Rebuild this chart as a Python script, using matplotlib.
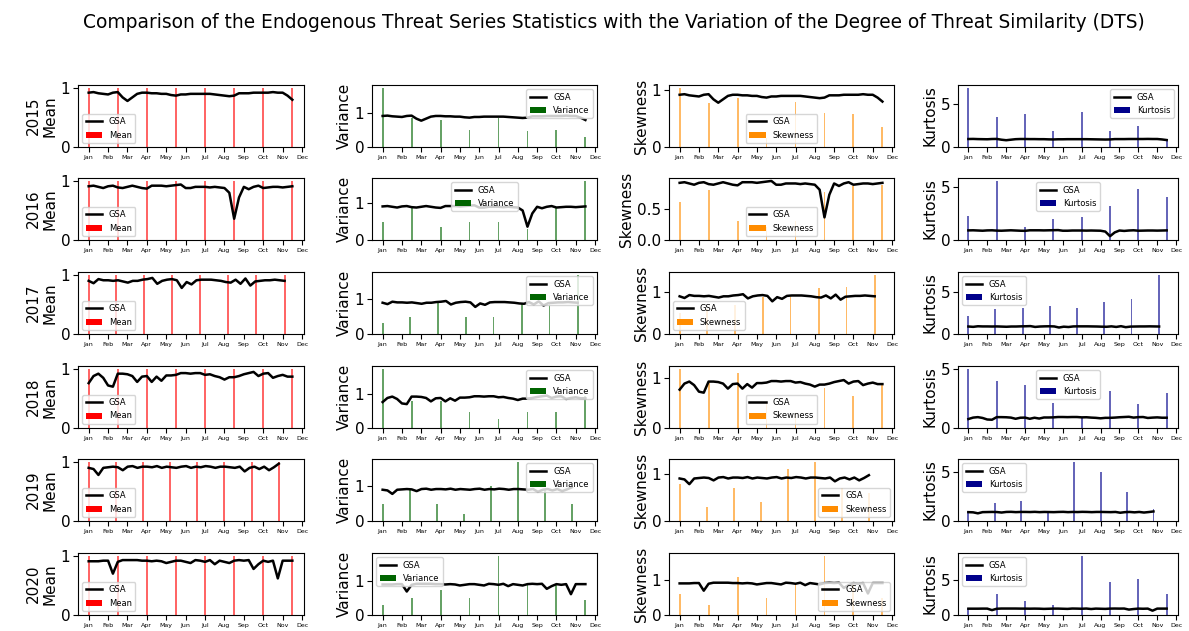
import numpy as np
import matplotlib
matplotlib.use("Agg")
import matplotlib.pyplot as plt

years = ["2015", "2016", "2017", "2018", "2019", "2020"]
months = ["Jan", "Feb", "Mar", "Apr", "May", "Jun",
          "Jul", "Aug", "Sep", "Oct", "Nov", "Dec"]
stats = ["Mean", "Variance", "Skewness", "Kurtosis"]
colors = {"Mean": "red", "Variance": "darkgreen",
          "Skewness": "darkorange", "Kurtosis": "darkblue"}

# last point of the GSA series (in months from Jan 1)
gsa_end = {"2015": 10.5, "2016": 10.5, "2017": 10.1,
           "2018": 10.5, "2019": 9.8, "2020": 10.5}

# GSA series (roughly weekly)
gsa_2015 = [0.92, 0.93, 0.91, 0.90, 0.89, 0.92, 0.93, 0.84, 0.78, 0.84,
            0.90, 0.92, 0.92, 0.91, 0.91, 0.90, 0.90, 0.88, 0.87, 0.89,
            0.89, 0.90, 0.90, 0.90, 0.90, 0.90, 0.89, 0.88, 0.87, 0.86,
            0.87, 0.91, 0.91, 0.91, 0.92, 0.92, 0.92, 0.92, 0.93, 0.92,
            0.92, 0.87, 0.80]
gsa_2016 = [0.91, 0.92, 0.90, 0.88, 0.91, 0.92, 0.89, 0.88, 0.90, 0.92,
            0.90, 0.88, 0.87, 0.92, 0.92, 0.92, 0.91, 0.92, 0.93, 0.94,
            0.88, 0.88, 0.90, 0.90, 0.90, 0.89, 0.90, 0.89, 0.88, 0.80,
            0.36, 0.72, 0.90, 0.86, 0.90, 0.92, 0.88, 0.89, 0.90, 0.90,
            0.89, 0.90, 0.91]
gsa_2017 = [0.90, 0.86, 0.93, 0.91, 0.91, 0.90, 0.91, 0.89, 0.87, 0.90,
            0.90, 0.92, 0.93, 0.95, 0.85, 0.90, 0.92, 0.93, 0.91, 0.78,
            0.88, 0.84, 0.91, 0.92, 0.92, 0.92, 0.91, 0.90, 0.88, 0.87,
            0.92, 0.85, 0.94, 0.82, 0.89, 0.90, 0.91, 0.91, 0.92, 0.91,
            0.90]
gsa_2018 = [0.76, 0.88, 0.92, 0.85, 0.72, 0.70, 0.92, 0.92, 0.91, 0.88,
            0.78, 0.87, 0.88, 0.78, 0.87, 0.80, 0.89, 0.89, 0.90, 0.93,
            0.93, 0.92, 0.93, 0.93, 0.90, 0.91, 0.88, 0.86, 0.82, 0.86,
            0.86, 0.88, 0.91, 0.93, 0.95, 0.88, 0.92, 0.93, 0.85, 0.88,
            0.90, 0.87, 0.87]
gsa_2019 = [0.90, 0.88, 0.78, 0.90, 0.91, 0.92, 0.91, 0.86, 0.92, 0.93,
            0.90, 0.92, 0.92, 0.91, 0.93, 0.90, 0.92, 0.91, 0.90, 0.92,
            0.93, 0.90, 0.92, 0.91, 0.93, 0.92, 0.90, 0.92, 0.92, 0.91,
            0.90, 0.92, 0.84, 0.90, 0.92, 0.88, 0.92, 0.86, 0.91, 0.97]
gsa_2020 = [0.91, 0.91, 0.91, 0.92, 0.92, 0.70, 0.90, 0.93, 0.93, 0.93,
            0.93, 0.92, 0.92, 0.91, 0.92, 0.91, 0.88, 0.90, 0.92, 0.92,
            0.90, 0.88, 0.93, 0.92, 0.90, 0.93, 0.86, 0.92, 0.90, 0.88,
            0.92, 0.93, 0.92, 0.93, 0.78, 0.86, 0.92, 0.90, 0.92, 0.62,
            0.92, 0.92, 0.92]
gsa = {"2015": gsa_2015, "2016": gsa_2016, "2017": gsa_2017,
       "2018": gsa_2018, "2019": gsa_2019, "2020": gsa_2020}

# statistic windows (month position of each bar)
win_2015 = [0, 1.5, 3, 4.5, 6, 7.5, 9, 10.5]
win_2017 = [0, 1.43, 2.87, 4.3, 5.74, 7.2, 8.64, 10.1]
win_2019 = [0, 1.4, 2.8, 4.2, 5.6, 7.0, 8.4, 9.8]
windows = {"2015": win_2015, "2016": win_2015, "2017": win_2017,
           "2018": win_2015, "2019": win_2019, "2020": win_2015}

mean_vals = {y: [1.0] * 8 for y in years}
var_vals = {
    "2015": [1.75, 0.86, 0.81, 0.49, 0.86, 0.46, 0.49, 0.30],
    "2016": [0.48, 0.88, 0.35, 0.48, 0.48, 0.30, 0.88, 1.60],
    "2017": [0.33, 0.50, 0.90, 0.50, 0.50, 0.90, 0.85, 1.70],
    "2018": [1.73, 0.80, 0.79, 0.47, 0.27, 0.47, 0.47, 0.95],
    "2019": [0.50, 0.90, 0.50, 0.20, 1.00, 1.70, 0.90, 0.50],
    "2020": [0.30, 0.50, 0.76, 0.50, 1.76, 0.90, 0.90, 0.46],
}
skew_vals = {
    "2015": [1.04, 0.77, 0.87, 0.15, 0.80, 0.60, 0.58, 0.35],
    "2016": [0.60, 0.80, 0.30, 0.20, 0.30, 0.77, 0.86, 0.88],
    "2017": [0.50, 0.60, 0.70, 0.88, 0.88, 1.09, 1.13, 1.41],
    "2018": [1.17, 0.90, 1.08, 0.50, 0.30, 0.79, 0.63, 0.88],
    "2019": [0.78, 0.30, 0.70, 0.40, 1.10, 1.25, 0.70, 0.60],
    "2020": [0.60, 0.30, 1.10, 0.50, 0.90, 1.70, 0.90, 0.50],
}
kurt_vals = {
    "2015": [6.8, 3.5, 3.8, 1.85, 4.0, 1.85, 2.4, 0.8],
    "2016": [2.3, 5.6, 1.25, 2.0, 2.2, 3.2, 4.8, 4.1],
    "2017": [2.2, 3.0, 3.1, 3.4, 3.1, 3.8, 4.2, 7.1],
    "2018": [5.0, 4.0, 3.65, 2.1, 0.95, 3.15, 2.0, 2.95],
    "2019": [1.0, 1.8, 2.0, 0.9, 6.0, 5.0, 2.9, 1.2],
    "2020": [1.0, 3.0, 2.0, 1.5, 8.5, 4.8, 5.2, 3.0],
}
values = {"Mean": mean_vals, "Variance": var_vals,
          "Skewness": skew_vals, "Kurtosis": kurt_vals}

legend_loc = {
    "Mean": ["lower left"] * 6,
    "Variance": ["upper right", "upper center", "upper right",
                 "upper right", "upper right", "upper left"],
    "Skewness": ["lower center", "lower center", "lower left",
                 "lower center", "lower right", "lower right"],
    "Kurtosis": ["upper right", "upper center", "upper left",
                 "upper center", "upper left", "upper left"],
}

W, H = 1189, 631
fig = plt.figure(figsize=(W / 100, H / 100), dpi=100)
fig.suptitle("Comparison of the Endogenous Threat Series Statistics with the "
             "Variation of the Degree of Threat Similarity (DTS)",
             fontsize=13.4, x=614 / W, y=1 - 22 / H, va="center")

col_left = [78, 372, 669, 958]
col_w = [226, 225, 225, 220]
row_top = [85, 178, 272, 366, 459, 553]
row_h = 62

for r, year in enumerate(years):
    line_y = gsa[year]
    line_x = np.linspace(0, gsa_end[year], len(line_y))
    for c, stat in enumerate(stats):
        ax = fig.add_axes([col_left[c] / W, 1 - (row_top[r] + row_h) / H,
                           col_w[c] / W, row_h / H])
        ax.plot(line_x, line_y, color="black", lw=1.8, label="GSA")
        ax.bar(windows[year], values[stat][year], width=0.1,
               color=colors[stat], alpha=0.6, label=stat)
        ax.set_xlim(-0.55, 11.1)
        ax.set_xticks(range(12))
        ax.set_xticklabels(months, fontsize=4.5)
        if stat == "Kurtosis":
            ax.set_yticks([0, 5])
        elif stat == "Skewness" and year == "2016":
            ax.set_yticks([0, 0.5])
        else:
            ax.set_yticks([0, 1])
        ax.tick_params(axis="y", labelsize=11, pad=2)
        ax.tick_params(axis="x", pad=2)
        if c == 0:
            ax.set_ylabel(year + "\nMean", fontsize=11, labelpad=2)
        else:
            ax.set_ylabel(stat, fontsize=11, labelpad=2)
        leg = ax.legend(loc=legend_loc[stat][r], fontsize=6)
        for h in leg.legend_handles:
            h.set_alpha(1)

plt.savefig("out.png", dpi=100)
